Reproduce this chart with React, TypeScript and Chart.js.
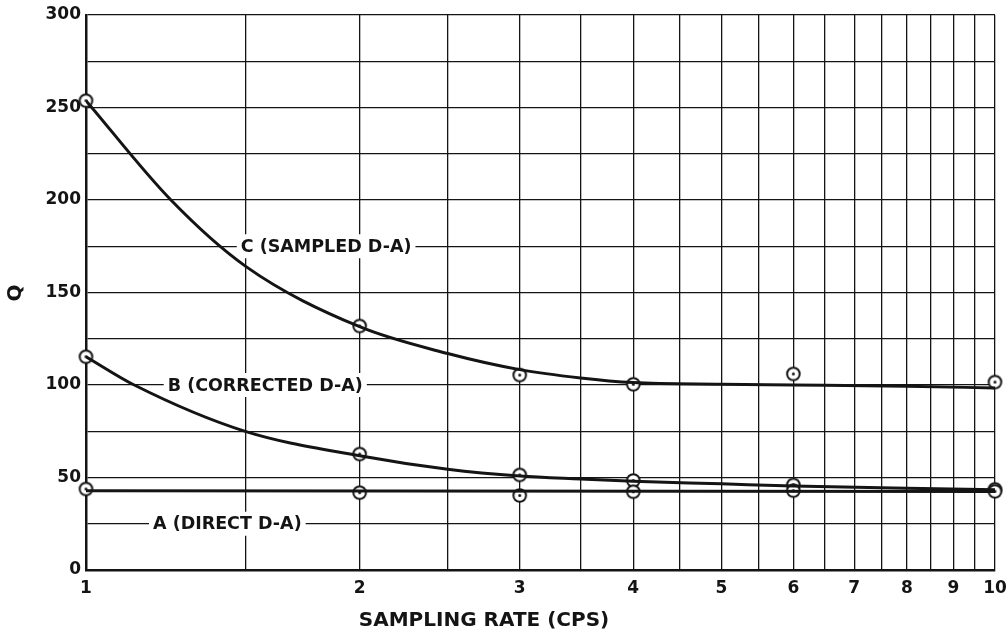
import React, { useEffect, useRef } from 'react';
import { Chart, registerables } from 'chart.js';

Chart.register(...registerables);

// ---- axes ----
const xGridValues = [1, 1.5, 2, 2.5, 3, 3.5, 4, 4.5, 5, 5.5, 6, 6.5, 7, 7.5, 8, 8.5, 9, 9.5, 10];
const xLabelValues = [1, 2, 3, 4, 5, 6, 7, 8, 9, 10];
const xTickLabels = ['1', '2', '3', '4', '5', '6', '7', '8', '9', '10'];
const yLabelValues = [0, 50, 100, 150, 200, 250, 300];
const yTickLabels = ['0', '50', '100', '150', '200', '250', '300'];
const xTitle = 'SAMPLING RATE (CPS)';
const yTitle = 'Q';

// ---- measured points ----
const measuredRates = [1, 2, 3, 4, 6, 10];
const pointsA = [43.8, 41.8, 40.3, 42.3, 42.9, 42.5];
const pointsB = [115.3, 62.7, 51.4, 48.4, 46.0, 43.6];
const pointsC = [253.7, 131.9, 105.4, 100.4, 106.0, 101.6];

// ---- fitted curves ----
const curveARates = [1, 10];
const curveAValues = [42.8, 42.5];
const curveBRates = [1, 1.13, 1.5, 2, 2.5, 3, 3.5, 4, 5, 6, 8, 10];
const curveBValues = [115.3, 100, 74.8, 61.8, 54.5, 50.8, 49.2, 48.0, 46.6, 45.4, 44.2, 43.4];
const curveCRates = [1, 1.24, 1.5, 2, 2.5, 3, 3.5, 4, 5, 6, 8, 10];
const curveCValues = [253.7, 200, 164, 131.5, 117, 108.3, 103.8, 101.3, 100.4, 100.0, 99.3, 98.4];

// ---- curve labels ----
const curveLabels = ['C (SAMPLED D-A)', 'B (CORRECTED D-A)', 'A (DIRECT D-A)'];
const labelRates = [1.48, 1.23, 1.185];
const labelQ = [175, 100, 25];

const INK = '#141414';

const toXY = (xs: number[], ys: number[]) => xs.map((x, i) => ({ x, y: ys[i] }));

function makeMarker(): HTMLCanvasElement {
  const c = document.createElement('canvas');
  c.width = 17;
  c.height = 17;
  const g = c.getContext('2d')!;
  g.beginPath();
  g.arc(8.5, 8.5, 6.3, 0, Math.PI * 2);
  g.fillStyle = '#fff';
  g.fill();
  g.lineWidth = 2;
  g.strokeStyle = INK;
  g.stroke();
  g.beginPath();
  g.arc(8.5, 8.5, 1.5, 0, Math.PI * 2);
  g.fillStyle = INK;
  g.fill();
  return c;
}

const annotPlugin = {
  id: 'annot',
  beforeDatasetsDraw(chart: any) {
    const { ctx, scales } = chart;
    const x = scales.x;
    const y = scales.y;
    ctx.save();
    ctx.font = 'bold 17.5px "DejaVu Sans"';
    ctx.textBaseline = 'middle';
    ctx.textAlign = 'left';
    curveLabels.forEach((t, i) => {
      const px = x.getPixelForValue(labelRates[i]);
      const py = y.getPixelForValue(labelQ[i]);
      const w = ctx.measureText(t).width;
      ctx.fillStyle = '#fff';
      ctx.fillRect(px - 4, py - 12, w + 8, 24);
      ctx.fillStyle = INK;
      ctx.fillText(t, px, py + 1);
    });
    ctx.restore();
  },
  afterDraw(chart: any) {
    const { ctx } = chart;
    ctx.save();
    ctx.fillStyle = INK;
    ctx.font = 'bold 20px "DejaVu Sans"';
    ctx.textAlign = 'center';
    ctx.textBaseline = 'middle';
    ctx.fillText(xTitle, 484, 621);
    ctx.translate(16, 293);
    ctx.rotate(-Math.PI / 2);
    ctx.fillText(yTitle, 0, 0);
    ctx.restore();
  },
};

export default function App() {
  const ref = useRef<HTMLCanvasElement>(null);

  useEffect(() => {
    if (!ref.current) return;
    const marker = makeMarker();
    const curveStyle = {
      showLine: true,
      borderColor: INK,
      borderWidth: 3,
      pointRadius: 0,
      cubicInterpolationMode: 'monotone' as const,
      fill: false,
    };
    const pointStyle = {
      showLine: false,
      pointStyle: marker,
      pointRadius: 7,
      clip: false as any,
      backgroundColor: '#fff',
      borderColor: INK,
    };
    const chart = new Chart(ref.current, {
      type: 'scatter',
      data: {
        datasets: [
          { label: 'A curve', data: toXY(curveARates, curveAValues), ...curveStyle, cubicInterpolationMode: 'default' },
          { label: 'B curve', data: toXY(curveBRates, curveBValues), ...curveStyle },
          { label: 'C curve', data: toXY(curveCRates, curveCValues), ...curveStyle },
          { label: 'A', data: toXY(measuredRates, pointsA), ...pointStyle },
          { label: 'B', data: toXY(measuredRates, pointsB), ...pointStyle },
          { label: 'C', data: toXY(measuredRates, pointsC), ...pointStyle },
        ] as any,
      },
      options: {
        animation: false,
        responsive: false,
        devicePixelRatio: 1,
        layout: { padding: { top: 15, right: 11, left: 0, bottom: 0 } },
        plugins: {
          legend: { display: false },
          tooltip: { enabled: false },
          title: { display: false },
        },
        scales: {
          x: {
            type: 'logarithmic',
            min: 1,
            max: 10,
            afterBuildTicks: (scale: any) => {
              scale.ticks = xGridValues.map((v) => ({ value: v }));
            },
            afterFit: (scale: any) => {
              scale.height = 65;
              scale.paddingLeft = 0;
              scale.paddingRight = 0;
            },
            grid: { color: INK, lineWidth: 1.3, drawTicks: false },
            border: { display: true, color: INK, width: 2.5 },
            ticks: {
              autoSkip: false,
              maxRotation: 0,
              minRotation: 0,
              padding: 8,
              color: INK,
              font: { family: '"DejaVu Sans"', size: 17, weight: 'bold' },
              callback: (v: any) => {
                const idx = xLabelValues.indexOf(Number(v));
                return idx >= 0 ? xTickLabels[idx] : '';
              },
            },
          },
          y: {
            type: 'linear',
            min: 0,
            max: 300,
            afterFit: (scale: any) => {
              scale.width = 86;
              scale.paddingTop = 0;
              scale.paddingBottom = 0;
            },
            grid: { color: INK, lineWidth: 1.3, drawTicks: false },
            border: { display: true, color: INK, width: 2.5 },
            ticks: {
              stepSize: 25,
              autoSkip: false,
              padding: 5,
              color: INK,
              font: { family: '"DejaVu Sans"', size: 17, weight: 'bold' },
              callback: (v: any) => {
                const idx = yLabelValues.indexOf(Number(v));
                return idx >= 0 ? yTickLabels[idx] : '';
              },
            },
          },
        },
      } as any,
      plugins: [annotPlugin],
    });
    return () => chart.destroy();
  }, []);

  return (
    <div style={{ position: 'absolute', left: 0, top: 0, width: 1006, height: 635, background: '#fff' }}>
      <canvas ref={ref} width={1006} height={635} style={{ width: 1006, height: 635 }} />
    </div>
  );
}
